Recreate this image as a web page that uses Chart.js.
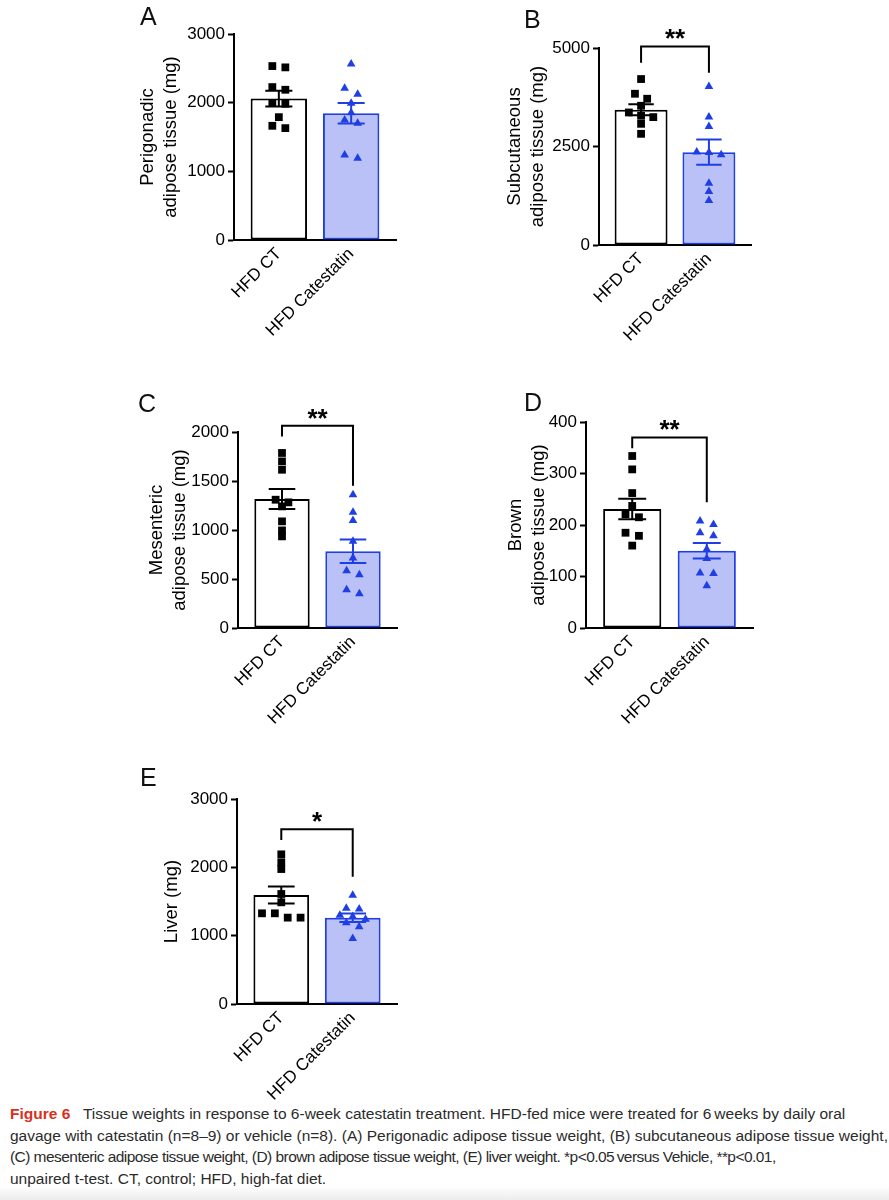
<!DOCTYPE html>
<html>
<head>
<meta charset="utf-8">
<script src="https://cdn.jsdelivr.net/npm/chart.js@4/dist/chart.umd.min.js"></script>
<style>
  body { margin: 0; background: #fff; }
  #fig { position: relative; width: 889px; height: 1200px; overflow: hidden; }
  canvas { position: absolute; }
  .letter { position: absolute; font: 25px/1 'Liberation Sans', Arial, sans-serif; color: #111; }
  #caption {
    position: absolute; left: 10px; top: 1103px; width: 875px;
    font: 15.5px/21.7px 'Liberation Sans Narrow', 'Arial Narrow', 'Liberation Sans', sans-serif;
    color: #2b2b2b; white-space: nowrap;
  }
  #caption .fig { color: #d9301c; font-weight: bold; }
  #caption .tight { letter-spacing: -0.55px; }
  #shade { position: absolute; left: 0; top: 1186px; width: 889px; height: 14px;
    background: linear-gradient(#fff, #ececec); }
</style>
</head>
<body>
<div id="fig">
  <canvas id="cA" width="320" height="380" style="left:100px;top:0"></canvas>
  <canvas id="cB" width="320" height="380" style="left:470px;top:0"></canvas>
  <canvas id="cC" width="320" height="380" style="left:100px;top:380px"></canvas>
  <canvas id="cD" width="320" height="380" style="left:470px;top:380px"></canvas>
  <canvas id="cE" width="320" height="340" style="left:100px;top:760px"></canvas>

  <div class="letter" style="left:140px;top:4px">A</div>
  <div class="letter" style="left:524px;top:7px">B</div>
  <div class="letter" style="left:138px;top:391px">C</div>
  <div class="letter" style="left:524px;top:390px">D</div>
  <div class="letter" style="left:140px;top:765px">E</div>

  <div id="shade"></div>
  <div id="caption"><span class="fig">Figure 6</span>&nbsp;&nbsp; Tissue weights in response to 6-week catestatin treatment. HFD-fed mice were treated for 6&#8201;weeks by daily oral<br>gavage with catestatin (n=8–9) or vehicle (n=8). (A) Perigonadic adipose tissue weight, (B) subcutaneous adipose tissue weight,<br><span class="tight">(C) mesenteric adipose tissue weight, (D) brown adipose tissue weight, (E) liver weight. *p&lt;0.05&#8201;versus Vehicle, **p&lt;0.01,</span><br>unpaired t-test. CT, control; HFD, high-fat diet.</div>
</div>

<script>
const groupLabels = ['HFD CT', 'HFD Catestatin'];

// A - perigonadic
const periCT = [2514, 2533, 2227, 2188, 1994, 1984, 1789, 1663, 1629];
const periCat = [2563, 2209, 2121, 1990, 1854, 1748, 1699, 1238, 1190];
const periMean = [2060, 1845];
const periSem = [115, 150];

// B - subcutaneous
const subCT = [4212, 3839, 3712, 3534, 3364, 3280, 3246, 3076, 2822];
const subCat = [4025, 3246, 3008, 2360, 2350, 2290, 1568, 1356, 1127];
const subMean = [3432, 2356];
const subSem = [140, 320];
const subSig = ['**', 5041, 4626, 4372];

// C - mesenteric
const mesCT = [1786, 1700, 1615, 1309, 1282, 1241, 1088, 996, 935];
const mesCat = [1360, 1180, 1098, 884, 714, 585, 544, 391, 350];
const mesMean = [1316, 782];
const mesSem = [102, 120];
const mesSig = ['**', 2064, 1955, 1452];

// D - brown
const brnCT = [334, 308, 262, 237, 221, 215, 185, 179, 160];
const brnCat = [208, 201, 185, 179, 153, 135, 107, 106, 82];
const brnMean = [231, 150];
const brnSem = [20, 15];
const brnSig = ['**', 370, 349, 244];

// E - liver
const livCT = [2190, 2073, 1975, 1610, 1488, 1327, 1327, 1264, 1264];
const livCat = [1590, 1400, 1390, 1300, 1280, 1240, 1190, 1130, 960];
const livMean = [1595, 1263];
const livSem = [125, 62];
const livSig = ['*', 2556, 2400, 1863];

const FONT = "'Liberation Sans', Arial, sans-serif";
const CT_COLOR = '#000000';
const CAT_COLOR = '#1f3fe4';
const CAT_FILL = '#b9c1f6';

Chart.defaults.font.family = FONT;
Chart.defaults.color = '#000';

// spread points of similar value side by side, like a column scatter
function spread(values, yMax, center) {
  const sorted = values.slice().sort((a, b) => b - a);
  const out = [];
  let k = 0;
  while (k < sorted.length) {
    let j = k + 1;
    while (j < sorted.length && sorted[k] - sorted[j] < yMax * 0.03) j++;
    const n = j - k;
    for (let m = 0; m < n; m++) {
      out.push({ x: center + (m - (n - 1) / 2) * 0.18, y: sorted[k + m] });
    }
    k = j;
  }
  return out;
}

const errorBars = {
  id: 'errorBars',
  afterDatasetsDraw(chart, args, opts) {
    const { ctx, scales: { y } } = chart;
    const bars = chart.getDatasetMeta(0).data;
    ctx.save();
    ctx.lineWidth = 2;
    opts.mean.forEach((m, i) => {
      const cx = bars[i].x;
      const half = bars[i].width * 0.24;
      const hi = y.getPixelForValue(m + opts.sem[i]);
      const lo = y.getPixelForValue(m - opts.sem[i]);
      ctx.strokeStyle = opts.colors[i];
      ctx.beginPath();
      ctx.moveTo(cx, hi); ctx.lineTo(cx, lo);
      ctx.moveTo(cx - half, hi); ctx.lineTo(cx + half, hi);
      ctx.moveTo(cx - half, lo); ctx.lineTo(cx + half, lo);
      ctx.stroke();
    });
    ctx.restore();
  }
};

const sigBracket = {
  id: 'sigBracket',
  afterDraw(chart, args, opts) {
    if (!opts.sig) return;
    const { ctx, scales: { x, y } } = chart;
    const [label, top, leftEnd, rightEnd] = opts.sig;
    const x0 = x.getPixelForValue(0), x1 = x.getPixelForValue(1);
    const yt = y.getPixelForValue(top);
    ctx.save();
    ctx.strokeStyle = '#000';
    ctx.lineWidth = 2;
    ctx.beginPath();
    ctx.moveTo(x0, y.getPixelForValue(leftEnd));
    ctx.lineTo(x0, yt);
    ctx.lineTo(x1, yt);
    ctx.lineTo(x1, y.getPixelForValue(rightEnd));
    ctx.stroke();
    ctx.fillStyle = '#000';
    ctx.font = 'bold 26px ' + FONT;
    ctx.textAlign = 'center';
    ctx.textBaseline = 'alphabetic';
    ctx.fillText(label, (x0 + x1) / 2, yt + 1);
    ctx.restore();
  }
};

const panels = [
  { id: 'cA', title: ['Perigonadic', 'adipose tissue (mg)'], yMax: 3000, step: 1000,
    ct: periCT, cat: periCat, mean: periMean, sem: periSem, sig: null,
    yW: 134, xH: 140, padT: 34, padR: 24, titlePad: 36 },
  { id: 'cB', title: ['Subcutaneous', 'adipose tissue (mg)'], yMax: 5000, step: 2500,
    ct: subCT, cat: subCat, mean: subMean, sem: subSem, sig: subSig,
    yW: 129, xH: 135, padT: 48, padR: 39, titlePad: 33 },
  { id: 'cC', title: ['Mesenteric', 'adipose tissue (mg)'], yMax: 2000, step: 500,
    ct: mesCT, cat: mesCat, mean: mesMean, sem: mesSem, sig: mesSig,
    yW: 138, xH: 132, padT: 52, padR: 23, titlePad: 45 },
  { id: 'cD', title: ['Brown', 'adipose tissue (mg)'], yMax: 400, step: 100,
    ct: brnCT, cat: brnCat, mean: brnMean, sem: brnSem, sig: brnSig,
    yW: 116, xH: 132, padT: 42, padR: 37, titlePad: 34 },
  { id: 'cE', title: 'Liver (mg)', yMax: 3000, step: 1000,
    ct: livCT, cat: livCat, mean: livMean, sem: livSem, sig: livSig,
    yW: 137, xH: 96, padT: 39, padR: 23, titlePad: 60 },
];

panels.forEach(p => {
  new Chart(document.getElementById(p.id), {
    type: 'bar',
    data: {
      datasets: [
        {
          data: p.mean.map((m, i) => ({ x: i, y: m })),
          backgroundColor: ['#ffffff', CAT_FILL],
          borderColor: [CT_COLOR, CAT_COLOR],
          borderWidth: 2,
          borderSkipped: false,
          categoryPercentage: 1,
          barPercentage: 0.78,
          order: 3,
        },
        {
          type: 'scatter',
          data: spread(p.ct, p.yMax, 0),
          pointStyle: 'rect',
          pointRadius: 5.5,
          backgroundColor: CT_COLOR,
          borderColor: CT_COLOR,
          borderWidth: 0,
          order: 2,
        },
        {
          type: 'scatter',
          data: spread(p.cat, p.yMax, 1),
          pointStyle: 'triangle',
          pointRadius: 5,
          backgroundColor: CAT_COLOR,
          borderColor: CAT_COLOR,
          borderWidth: 0,
          order: 1,
        },
      ],
    },
    options: {
      responsive: false,
      animation: false,
      devicePixelRatio: 1,
      layout: { padding: { top: p.padT, right: p.padR, left: 0, bottom: 0 } },
      plugins: {
        legend: { display: false },
        tooltip: { enabled: false },
        errorBars: { mean: p.mean, sem: p.sem, colors: [CT_COLOR, CAT_COLOR] },
        sigBracket: { sig: p.sig },
      },
      scales: {
        x: {
          type: 'linear',
          min: -0.62,
          max: 1.62,
          offset: false,
          afterFit: s => { s.height = p.xH; },
          afterBuildTicks: s => { s.ticks = groupLabels.map((_, i) => ({ value: i })); },
          ticks: {
            autoSkip: false, minRotation: 45, maxRotation: 45, padding: 4,
            color: '#000', font: { size: 17 },
            callback: v => groupLabels[v],
          },
          border: { display: true, color: '#000', width: 2 },
          grid: { display: false, drawTicks: false },
        },
        y: {
          min: 0,
          max: p.yMax,
          afterFit: s => { s.width = p.yW; },
          ticks: {
            stepSize: p.step, padding: 3, color: '#000', font: { size: 17 },
            callback: v => String(v),
          },
          border: { display: true, color: '#000', width: 2 },
          grid: { display: true, drawOnChartArea: false, drawTicks: true, tickLength: 6, tickColor: '#000', tickWidth: 2 },
          title: {
            display: true, text: p.title, color: '#000',
            font: { size: 18.5, lineHeight: 1.25 },
            padding: { top: p.titlePad, bottom: 0 },
          },
        },
      },
    },
    plugins: [errorBars, sigBracket],
  });
});
</script>
</body>
</html>
